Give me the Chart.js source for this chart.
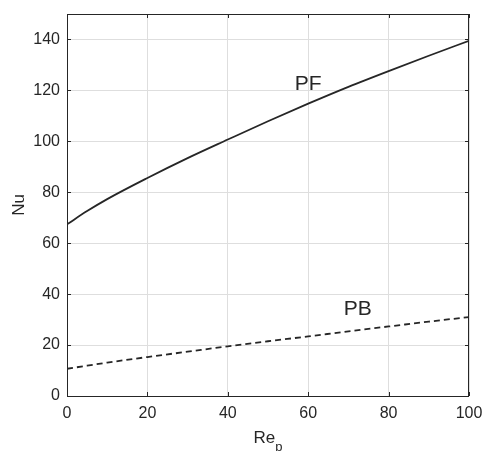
<!DOCTYPE html>
<html>
<head>
<meta charset="utf-8">
<script src="https://cdn.jsdelivr.net/npm/chart.js@4.4.1/dist/chart.umd.min.js"></script>
<style>
  html, body { margin: 0; padding: 0; background: #fff; }
</style>
</head>
<body>
<canvas id="nuChart" width="484" height="451"></canvas>
<script>
// particle Reynolds number and Nusselt number for the two cases
const reP = [0, 5, 10, 20, 30, 40, 50, 60, 70, 80, 90, 100];
const nuPF = [67.4, 72.6, 77.3, 85.6, 93.4, 100.7, 107.9, 114.8, 121.4, 127.6, 133.6, 139.5];
const nuPB = [10.7, 11.9, 13.1, 15.3, 17.4, 19.5, 21.5, 23.4, 25.4, 27.3, 29.2, 31.0];
const xTicks = [0, 20, 40, 60, 80, 100];
const yTicks = [0, 20, 40, 60, 80, 100, 120, 140];
const curveLabels = [
  { text: 'PF', x: 60, y: 122.5 },
  { text: 'PB', x: 72.3, y: 34.1 }
];

const ink = '#262626';
const font = '"Liberation Sans", Arial, Helvetica, sans-serif';

function pts(ys) {
  return reP.map((x, i) => ({ x: x, y: ys[i] }));
}

// box, inward tick marks, axis titles and curve labels
const frame = {
  id: 'frame',
  afterDraw(chart) {
    const ctx = chart.ctx;
    const a = chart.chartArea;
    const sx = chart.scales.x, sy = chart.scales.y;
    ctx.save();
    ctx.strokeStyle = ink;
    ctx.lineWidth = 1;
    ctx.strokeRect(a.left + 0.5, a.top + 0.5, a.right - a.left - 1, a.bottom - a.top);
    ctx.beginPath();
    xTicks.forEach(v => {
      const px = Math.round(sx.getPixelForValue(v)) + 0.5;
      ctx.moveTo(px, a.bottom); ctx.lineTo(px, a.bottom - 4);
      ctx.moveTo(px, a.top); ctx.lineTo(px, a.top + 4);
    });
    yTicks.forEach(v => {
      const py = Math.round(sy.getPixelForValue(v)) + 0.5;
      ctx.moveTo(a.left, py); ctx.lineTo(a.left + 4, py);
      ctx.moveTo(a.right, py); ctx.lineTo(a.right - 4, py);
    });
    ctx.stroke();

    ctx.fillStyle = ink;
    ctx.textBaseline = 'middle';
    ctx.textAlign = 'center';
    ctx.font = '21px ' + font;
    curveLabels.forEach(l => {
      ctx.fillText(l.text, sx.getPixelForValue(l.x), sy.getPixelForValue(l.y));
    });

    // x axis title with subscript
    ctx.font = '17px ' + font;
    ctx.textAlign = 'left';
    ctx.textBaseline = 'alphabetic';
    const wRe = ctx.measureText('Re').width;
    ctx.font = '13px ' + font;
    const wP = ctx.measureText('p').width;
    const x0 = (a.left + a.right) / 2 - (wRe + wP) / 2;
    ctx.font = '17px ' + font;
    ctx.fillText('Re', x0, 443);
    ctx.font = '13px ' + font;
    ctx.fillText('p', x0 + wRe, 451);

    // y axis title
    ctx.font = '17px ' + font;
    ctx.translate(24, (a.top + a.bottom) / 2);
    ctx.rotate(-Math.PI / 2);
    ctx.textAlign = 'center';
    ctx.fillText('Nu', 0, 0);
    ctx.restore();
  }
};

new Chart(document.getElementById('nuChart'), {
  type: 'line',
  data: {
    datasets: [
      {
        label: 'PF',
        data: pts(nuPF),
        borderColor: ink,
        borderWidth: 1.8,
        pointRadius: 0,
        cubicInterpolationMode: 'monotone',
        fill: false
      },
      {
        label: 'PB',
        data: pts(nuPB),
        borderColor: ink,
        borderWidth: 1.8,
        borderDash: [6, 4],
        pointRadius: 0,
        cubicInterpolationMode: 'monotone',
        fill: false
      }
    ]
  },
  options: {
    responsive: false,
    animation: false,
    layout: { padding: { top: 14, right: 15, left: 0, bottom: 0 } },
    plugins: {
      legend: { display: false },
      tooltip: { enabled: false }
    },
    scales: {
      x: {
        type: 'linear',
        min: 0,
        max: 100,
        afterBuildTicks: s => { s.ticks = xTicks.map(v => ({ value: v })); },
        afterFit: s => { s.height = 55; s.paddingLeft = 0; s.paddingRight = 0; },
        grid: { color: '#dedede', drawTicks: false },
        border: { display: false },
        ticks: { color: ink, padding: 8, font: { family: font, size: 16 }, maxRotation: 0 }
      },
      y: {
        type: 'linear',
        min: 0,
        max: 150,
        afterBuildTicks: s => { s.ticks = yTicks.map(v => ({ value: v })); },
        afterFit: s => { s.width = 67; s.paddingTop = 0; s.paddingBottom = 0; },
        grid: { color: '#dedede', drawTicks: false },
        border: { display: false },
        ticks: { color: ink, padding: 7, font: { family: font, size: 16 } }
      }
    }
  },
  plugins: [frame]
});
</script>
</body>
</html>
